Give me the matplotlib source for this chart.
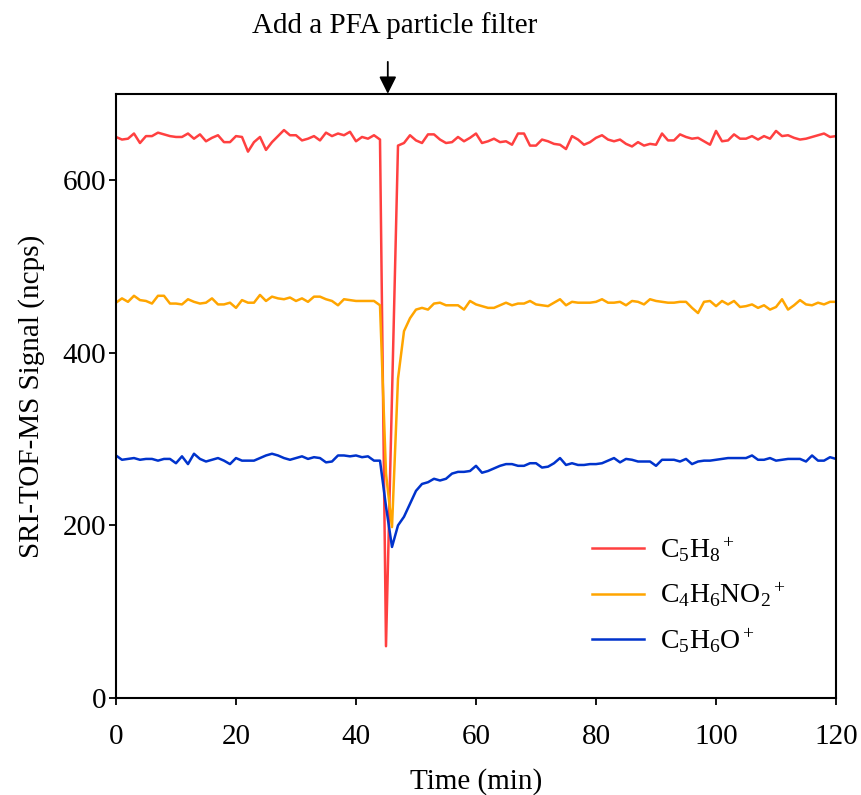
import numpy as np
import matplotlib
matplotlib.use("Agg")
import matplotlib.pyplot as plt

plt.rcParams['font.family'] = ['Liberation Serif', 'DejaVu Serif']
plt.rcParams['mathtext.fontset'] = 'custom'
plt.rcParams['mathtext.rm'] = 'Liberation Serif'
plt.rcParams['mathtext.it'] = 'Liberation Serif:italic'

# Time axis (min), one sample per minute
time_min = np.arange(0, 121)

c5h8 = [
    650, 647, 648, 654, 643, 651, 651, 655, 653, 651, 650, 650, 654, 648, 653, 645,
    649, 652, 644, 644, 651, 650, 633, 644, 650, 635, 644, 651, 658, 652, 652, 646,
    648, 651, 646, 655, 651, 654, 652, 656, 645, 650, 648, 652, 647,
    60, 350,
    640, 643, 652, 646, 643, 653, 653, 647, 643, 644, 650, 645, 649, 654, 643, 645,
    648, 644, 645, 641, 654, 654, 640, 640, 647, 645, 642, 641, 636, 651, 647, 641,
    644, 649, 652, 647, 645, 647, 642, 639, 644, 640, 642, 641, 654, 646, 646, 653,
    650, 648, 649, 645, 641, 657, 645, 646, 653, 648, 648, 651, 647, 651, 648, 657,
    651, 652, 649, 647, 648, 650, 652, 654, 650, 651,
]

c4h6no2 = [
    458, 463, 459, 466, 461, 460, 457, 466, 466, 457, 457, 456, 462, 459, 457, 458,
    463, 456, 456, 458, 452, 461, 458, 458, 467, 460, 465, 463, 462, 464, 460, 463,
    459, 465, 465, 462, 460, 455, 462, 461, 460, 460, 460, 460, 455,
    260, 198, 370, 425, 440,
    450, 452, 450, 457, 458, 455, 455, 455, 450, 460, 456, 454, 452, 452, 455, 458,
    455, 457, 457, 460, 456, 455, 454, 458, 462, 455, 459, 458, 458, 458, 459, 462,
    458, 458, 459, 455, 460, 459, 456, 462, 460, 459, 458, 458, 459, 459, 452, 446,
    459, 460, 454, 460, 456, 460, 453, 454, 456, 452, 455, 450, 453, 462, 450, 455,
    461, 456, 455, 458, 456, 459, 459,
]

c5h6o = [
    281, 276, 277, 278, 276, 277, 277, 275, 277, 277, 272, 280, 271, 283, 277, 274,
    276, 278, 275, 271, 278, 275, 275, 275, 278, 281, 283, 281, 278, 276, 278, 280,
    277, 279, 278, 273, 274, 281, 281, 280, 281, 279, 280, 275, 275,
    222, 175, 200, 210, 225, 240, 248, 250, 254, 252, 254, 260, 262, 262, 263,
    269, 261, 263, 266, 269, 271, 271, 269, 269, 272, 272, 267, 268, 272, 278, 270,
    272, 270, 270, 271, 271, 272, 275, 278, 273, 277, 276, 274, 274, 274, 269, 276,
    276, 276, 274, 277, 271, 274, 275, 275, 276, 277, 278, 278, 278, 278, 281, 276,
    276, 278, 275, 276, 277, 277, 277, 274, 281, 275, 275, 279, 277,
]

series_labels = [r'C$_5$H$_8$$^+$', r'C$_4$H$_6$NO$_2$$^+$', r'C$_5$H$_6$O$^+$']
series_colors = ['#ff4040', '#ffa500', '#0033cc']

x_ticks = [0, 20, 40, 60, 80, 100, 120]
y_ticks = [0, 200, 400, 600]
filter_time = 45.3

fig = plt.figure(figsize=(8.61, 7.95), dpi=100)
ax = fig.add_axes([0.1347, 0.122, 0.8363, 0.760])

for vals, lab, col in zip([c5h8, c4h6no2, c5h6o], series_labels, series_colors):
    ax.plot(time_min, vals, color=col, lw=1.8, label=lab)

ax.set_xlim(0, 120)
ax.set_ylim(0, 700)
ax.set_xticks(x_ticks)
ax.set_yticks(y_ticks)
ax.tick_params(direction='out', length=5, width=1.3, labelsize=21)
ax.tick_params(axis='x', pad=14)
ax.tick_params(axis='y', pad=2)
for s in ax.spines.values():
    s.set_linewidth(1.5)

ax.set_xlabel('Time (min)', fontsize=21, labelpad=13)
ax.set_ylabel('SRI-TOF-MS Signal (ncps)', fontsize=21, labelpad=13)

# Filter-insertion marker above the plot
ax.text(46.5, 764, 'Add a PFA particle filter', ha='center', va='bottom',
        fontsize=21, clip_on=False)
ax.annotate('', xy=(filter_time, 700), xycoords='data',
            xytext=(filter_time, 737), textcoords='data',
            annotation_clip=False,
            arrowprops=dict(arrowstyle='-|>', color='black', lw=1.3,
                            mutation_scale=26, shrinkA=0, shrinkB=0))

ax.legend(loc='lower right', bbox_to_anchor=(0.965, 0.03), frameon=False,
          fontsize=20, handlelength=1.85, labelspacing=0.62, handletextpad=0.6)

fig.savefig('out.png', dpi=100)
